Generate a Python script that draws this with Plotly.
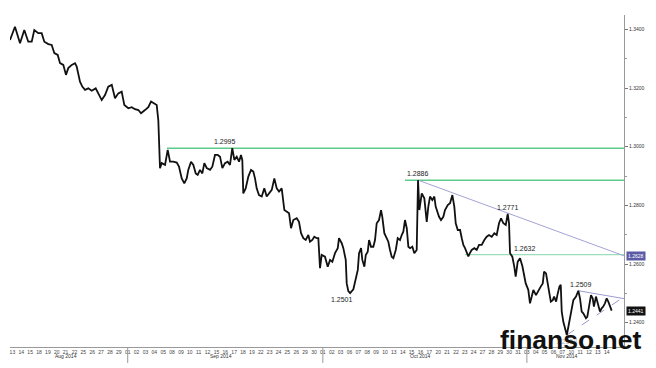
import plotly.graph_objects as go

# trading-day index since 13 Aug 2014 (fractional) and EUR/USD price
t = [-0.17, 0.39, 0.96, 1.44, 1.89, 2.28, 2.57, 3.02, 3.40, 3.70, 4.15, 4.53, 4.83, 5.21, 5.47, 5.84,
     6.14, 6.40, 6.79, 7.16, 7.35, 7.61, 7.72, 7.98, 8.29, 8.66, 9.04, 9.49, 9.79, 10.17, 10.54, 10.91,
     11.30, 11.67, 12.04, 12.42, 12.72, 13.17, 13.55, 13.92, 14.30, 14.60, 15.05, 15.42, 15.73, 16.10,
     16.37, 16.55, 16.74, 16.93, 17.31, 17.61, 17.87, 18.24, 18.63, 18.88, 19.19, 19.48, 19.75, 19.93,
     20.24, 20.50, 20.77, 20.99, 21.25, 21.51, 21.74, 22.01, 22.38, 22.64, 22.94, 23.25, 23.51, 23.77,
     24.07, 24.37, 24.63, 24.89, 25.12, 25.39, 25.65, 25.87, 26.02, 26.13, 26.40, 26.70, 27.00, 27.26,
     27.45, 27.64, 27.90, 28.21, 28.50, 28.77, 29.03, 29.34, 29.63, 29.90, 30.16, 30.46, 30.76, 31.03,
     31.29, 31.51, 31.77, 32.15, 32.41, 32.64, 32.90, 33.17, 33.46, 33.65, 33.91, 34.14, 34.41, 34.59,
     34.70, 34.78, 34.97, 35.34, 35.65, 35.91, 36.17, 36.47, 36.78, 36.92, 37.23, 37.41, 37.68, 37.79,
     37.97, 38.17, 38.54, 38.81, 39.04, 39.18, 39.41, 39.55, 39.78, 39.94, 40.16, 40.31, 40.53, 40.79,
     40.98, 41.17, 41.43, 41.66, 41.80, 42.03, 42.30, 42.48, 42.67, 42.86, 43.05, 43.32, 43.54, 43.80,
     43.99, 44.17, 44.36, 44.56, 44.74, 44.93, 45.19, 45.41, 45.68, 45.83, 45.98, 46.25, 46.54, 46.70,
     46.81, 46.99, 47.18, 47.44, 47.67, 47.82, 48.05, 48.20, 48.42, 48.68, 48.87, 49.18, 49.44, 49.70,
     49.92, 50.08, 50.31, 50.57, 50.76, 50.94, 51.13, 51.32, 51.50, 51.69, 51.88, 52.18, 52.45, 52.71,
     53.01, 53.30, 53.57, 53.83, 54.14, 54.43, 54.70, 54.96, 55.19, 55.45, 55.72, 55.94, 56.09, 56.20,
     56.46, 56.68, 56.84, 57.07, 57.33, 57.59, 57.81, 57.97, 58.26, 58.45, 58.65, 58.83, 59.13, 59.39,
     59.66, 59.89, 60.04, 60.26, 60.41, 60.64, 60.80, 61.02, 61.17, 61.40, 61.54, 61.77, 61.92, 62.03,
     62.21, 62.40, 62.60, 62.78, 62.97, 63.16, 63.34, 63.64, 63.90, 64.09, 64.28, 64.46, 64.76, 64.91,
     65.13, 65.33, 65.52, 65.66, 65.89, 66.15, 66.34, 66.53, 66.71, 66.90, 67.10, 67.28, 67.47, 67.66]

price = [1.3364, 1.3409, 1.3353, 1.3398, 1.3358, 1.3358, 1.3398, 1.3387, 1.3387, 1.3358, 1.3350, 1.3347,
         1.3319, 1.3313, 1.3285, 1.3279, 1.3245, 1.3268, 1.3279, 1.3285, 1.3273, 1.3239, 1.3222, 1.3205,
         1.3194, 1.3199, 1.3191, 1.3199, 1.3182, 1.3159, 1.3176, 1.3205, 1.3211, 1.3165, 1.3182, 1.3188,
         1.3142, 1.3131, 1.3135, 1.3128, 1.3125, 1.3114, 1.3125, 1.3135, 1.3154, 1.3148, 1.3142, 1.3091,
         1.2927, 1.2944, 1.2938, 1.2989, 1.2949, 1.2949, 1.2946, 1.2932, 1.2892, 1.2875, 1.2892, 1.2921,
         1.2949, 1.2938, 1.2909, 1.2904, 1.2921, 1.2909, 1.2944, 1.2927, 1.2921, 1.2932, 1.2972, 1.2972,
         1.2966, 1.2927, 1.2944, 1.2949, 1.2938, 1.2995, 1.2955, 1.2966, 1.2949, 1.2972, 1.2955, 1.2841,
         1.2858, 1.2898, 1.2921, 1.2915, 1.2892, 1.2858, 1.2835, 1.2830, 1.2858, 1.2830, 1.2841, 1.2853,
         1.2892, 1.2858, 1.2847, 1.2858, 1.2784, 1.2779, 1.2773, 1.2722, 1.2750, 1.2756, 1.2744, 1.2705,
         1.2688, 1.2682, 1.2699, 1.2676, 1.2682, 1.2693, 1.2688, 1.2688, 1.2637, 1.2586, 1.2631, 1.2625,
         1.2591, 1.2614, 1.2608, 1.2637, 1.2654, 1.2688, 1.2671, 1.2654, 1.2614, 1.2534, 1.2508, 1.2501,
         1.2514, 1.2551, 1.2580, 1.2637, 1.2654, 1.2614, 1.2591, 1.2631, 1.2642, 1.2682, 1.2659, 1.2659,
         1.2682, 1.2739, 1.2750, 1.2784, 1.2761, 1.2705, 1.2688, 1.2676, 1.2648, 1.2625, 1.2620, 1.2648,
         1.2688, 1.2682, 1.2699, 1.2710, 1.2750, 1.2722, 1.2659, 1.2654, 1.2659, 1.2637, 1.2648, 1.2886,
         1.2784, 1.2841, 1.2824, 1.2784, 1.2744, 1.2796, 1.2830, 1.2818, 1.2830, 1.2796, 1.2773, 1.2761,
         1.2750, 1.2761, 1.2784, 1.2801, 1.2807, 1.2835, 1.2796, 1.2739, 1.2716, 1.2716, 1.2688, 1.2665,
         1.2654, 1.2642, 1.2626, 1.2638, 1.2648, 1.2654, 1.2648, 1.2665, 1.2665, 1.2682, 1.2693, 1.2699,
         1.2693, 1.2705, 1.2699, 1.2739, 1.2756, 1.2739, 1.2733, 1.2771, 1.2739, 1.2637, 1.2625, 1.2591,
         1.2557, 1.2608, 1.2620, 1.2593, 1.2559, 1.2534, 1.2512, 1.2466, 1.2489, 1.2512, 1.2494, 1.2506,
         1.2523, 1.2534, 1.2574, 1.2568, 1.2546, 1.2500, 1.2472, 1.2477, 1.2489, 1.2472, 1.2494, 1.2523,
         1.2529, 1.2438, 1.2403, 1.2381, 1.2358, 1.2386, 1.2415, 1.2455, 1.2477, 1.2489, 1.2509, 1.2483,
         1.2438, 1.2432, 1.2415, 1.2420, 1.2455, 1.2494, 1.2483, 1.2455, 1.2489, 1.2455, 1.2438, 1.2449,
         1.2455, 1.2466, 1.2483, 1.2472, 1.2455, 1.2441]

day_labels = ["13", "14", "15", "18", "19", "20", "21", "22", "25", "26", "27", "28", "29",
              "01", "02", "03", "04", "05", "08", "09", "10", "11", "12", "15", "16", "17", "18", "19",
              "22", "23", "24", "25", "26", "29", "30",
              "01", "02", "03", "06", "07", "08", "09", "10", "13", "14", "15", "16", "17", "20", "21",
              "22", "23", "24", "27", "28", "29", "30", "31",
              "03", "04", "05", "06", "07", "10", "11", "12", "13", "14"]
month_names = ["Aug 2014", "Sep 2014", "Oct 2014", "Nov 2014"]
month_day_counts = [13, 22, 23, 10]

y_ticks = [1.24, 1.26, 1.28, 1.30, 1.32, 1.34]

level_values = [1.2995, 1.2886, 1.2632]
level_start_t = [17.53, 44.36, 51.13]

trend_main_t = [45.83, 69.05]
trend_main_p = [1.2886, 1.2628]
tri_upper_t = [63.90, 69.05]
tri_upper_p = [1.2509, 1.2482]
tri_lower_t = [62.60, 69.05]
tri_lower_p = [1.2358, 1.2488]

peak_text = ["1.2995", "1.2886", "1.2771", "1.2632", "1.2501", "1.2509", "1.2358"]
peak_t = [24.07, 44.36, 55.94, 56.43, 37.26, 64.20, 62.60]
peak_p = [1.2995, 1.2886, 1.2771, 1.2632, 1.2501, 1.2509, 1.2358]

last_price = 1.2441
x_end = 69.05

fig = go.Figure()

LVL_COLORS = ["#5ccc8c", "#5ccc8c", "#9adfb9"]
LVL_WIDTHS = [1.5, 1.5, 1.2]
for v, s, c, w in zip(level_values, level_start_t, LVL_COLORS, LVL_WIDTHS):
    fig.add_trace(go.Scatter(x=[s, x_end], y=[v, v], mode="lines",
                             line=dict(color=c, width=w), hoverinfo="skip"))

fig.add_trace(go.Scatter(x=trend_main_t, y=trend_main_p, mode="lines",
                         line=dict(color="#a3a3d6", width=1), hoverinfo="skip"))
fig.add_trace(go.Scatter(x=tri_upper_t, y=tri_upper_p, mode="lines",
                         line=dict(color="#9a9ad0", width=1), hoverinfo="skip"))
fig.add_trace(go.Scatter(x=tri_lower_t, y=tri_lower_p, mode="lines",
                         line=dict(color="#9a9ad0", width=1, dash="dash"), hoverinfo="skip"))

fig.add_trace(go.Scatter(x=t, y=price, mode="lines",
                         line=dict(color="#111111", width=1.8), hoverinfo="skip"))

annotations = []
anchors = ["center", "left", "center", "left", "center", "center", "center"]
for txt, xt, yp, xa in zip(peak_text, peak_t, peak_p, anchors):
    below = txt in ("1.2501", "1.2358")
    annotations.append(dict(x=xt, y=yp, xref="x", yref="y", text=txt, showarrow=False,
                            xanchor=xa, yanchor="top" if below else "bottom",
                            yshift=-1 if below else 1,
                            font=dict(family="Liberation Sans", size=7,
                                      color="#bbbbbb" if txt == "1.2358" else "#222222")))

# month labels and separators
start = 0
for name, n in zip(month_names, month_day_counts):
    center = start + (n - 1) / 2 + 0.1
    annotations.append(dict(x=center, y=-0.028, xref="x", yref="paper", text=name,
                            showarrow=False, yanchor="middle",
                            font=dict(family="Liberation Sans", size=5, color="#333333")))
    if start > 0:
        fig.add_shape(type="line", xref="x", yref="paper", x0=start + 0.1, x1=start + 0.1,
                      y0=0, y1=-0.048, line=dict(color="#999999", width=1))
    start += n

# right-side price boxes
annotations.append(dict(x=1, y=trend_main_p[1], xref="paper", yref="y", text="1.2628",
                        showarrow=False, xanchor="left", xshift=2, bgcolor="#5b5ba6",
                        borderpad=1, font=dict(family="Liberation Sans", size=5, color="white")))
annotations.append(dict(x=1, y=last_price, xref="paper", yref="y", text=f"{last_price:.4f}",
                        showarrow=False, xanchor="left", xshift=2, bgcolor="#111111",
                        borderpad=1, font=dict(family="Liberation Sans", size=5, color="white")))

# watermark
annotations.append(dict(x=0.795, y=-0.03, xref="paper", yref="paper", text="<b>finanso.net</b>",
                        showarrow=False, xanchor="left", yanchor="bottom",
                        font=dict(family="Liberation Sans", size=26.5, color="#111111")))

fig.update_layout(
    width=656, height=368, autosize=False,
    margin=dict(l=10, r=32, t=15, b=21),
    paper_bgcolor="white", plot_bgcolor="white",
    showlegend=False,
    annotations=annotations,
    xaxis=dict(range=[-0.17, x_end], showgrid=False, zeroline=False,
               showline=True, linecolor="#999999", linewidth=1,
               tickvals=[i + 0.1 for i in range(len(day_labels))], ticktext=day_labels,
               ticks="", tickfont=dict(family="Liberation Sans", size=5, color="#444444"),
               tickangle=0),
    yaxis=dict(range=[1.23171, 1.34491], side="right", showgrid=False, zeroline=False,
               showline=True, linecolor="#999999", linewidth=1,
               tickvals=y_ticks, ticktext=[f"{v:.4f}" for v in y_ticks],
               ticks="outside", ticklen=3, tickcolor="#777777",
               minor=dict(dtick=0.01, ticks="outside", ticklen=2, tickcolor="#999999"),
               tickfont=dict(family="Liberation Sans", size=5, color="#333333")),
)

fig.write_html("out.html")
